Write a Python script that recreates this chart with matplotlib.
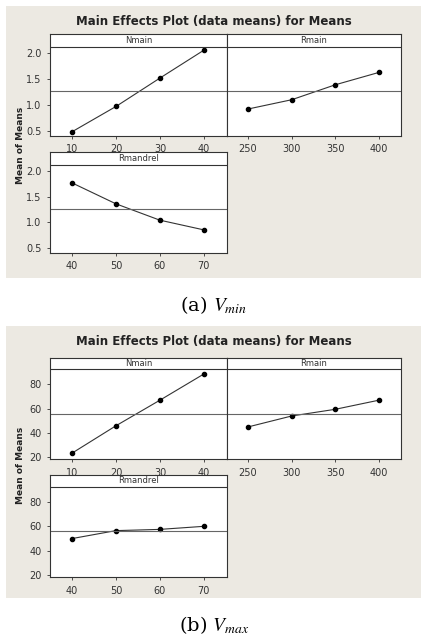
import matplotlib
matplotlib.use("Agg")
import matplotlib.pyplot as plt

W, H = 428, 639
plt.rcParams['mathtext.fontset'] = 'stix'

factors = ["Nmain", "Rmain", "Rmandrel"]
levels_N = [10, 20, 30, 40]
levels_R = [250, 300, 350, 400]
levels_M = [40, 50, 60, 70]

vmin_N = [0.48, 0.97, 1.52, 2.06]
vmin_R = [0.92, 1.10, 1.39, 1.63]
vmin_M = [1.77, 1.36, 1.04, 0.85]
vmin_mean = 1.26
vmin_yticks = [0.5, 1.0, 1.5, 2.0]

vmax_N = [23.5, 46, 67, 88.5]
vmax_R = [45, 54, 59.5, 67]
vmax_M = [50, 56.5, 57.5, 60]
vmax_mean = 56
vmax_yticks = [20, 40, 60, 80]

fig = plt.figure(figsize=(W/100, H/100), dpi=100)
fig.patch.set_facecolor("white")

def box(x0, y0, x1, y1):
    return [x0/W, 1-y1/H, (x1-x0)/W, (y1-y0)/H]

BG = "#ECE9E2"

def chart(yoff, top_px, bottom_px, ylim, yticks, yfmt, data, mean, strip_frac, caption):
    bg = fig.add_axes(box(6, yoff+6, 421, yoff+278), zorder=-5)
    bg.set_facecolor(BG)
    bg.set_xticks([]); bg.set_yticks([])
    for s in bg.spines.values():
        s.set_visible(False)
    fig.text(214/W, 1-(yoff+21)/H, "Main Effects Plot (data means) for Means",
             ha="center", va="center", fontsize=8.5, fontweight="bold", color="#222222")
    fig.text(21/W, 1-(yoff+145)/H, "Mean of Means", rotation=90, ha="center", va="center",
             fontsize=6.5, fontweight="bold", color="#222222")
    panels = [
        (box(50, yoff+top_px[0], 227, yoff+bottom_px[0]), levels_N, data[0], (4.96, 45.27), factors[0], True),
        (box(227, yoff+top_px[0], 401, yoff+bottom_px[0]), levels_R, data[1], (225.9, 425.2), factors[1], False),
        (box(50, yoff+top_px[1], 227, yoff+bottom_px[1]), levels_M, data[2], (35.0, 75.3), factors[2], True),
    ]
    for rect, lv, vals, xl, name, showy in panels:
        ax = fig.add_axes(rect)
        ax.set_facecolor("white")
        ax.plot(lv, vals, color="#333333", lw=0.8, marker="o", ms=3, mfc="black", mec="black")
        ax.axhline(mean, color="#666666", lw=0.8)
        ax.set_xlim(*xl)
        ax.set_ylim(*ylim)
        ax.set_xticks(lv)
        ax.set_yticks(yticks)
        ax.set_yticklabels([yfmt(v) for v in yticks])
        ax.tick_params(labelsize=7, colors="#333333", length=2.5, width=0.6)
        if not showy:
            ax.tick_params(axis="y", left=False, labelleft=False)
        for s in ax.spines.values():
            s.set_color("#333333"); s.set_linewidth(0.8)
        ax.axhline(ylim[1] - strip_frac*(ylim[1]-ylim[0]), color="#333333", lw=0.8)
        ax.text(0.5, 1-strip_frac/2, name, transform=ax.transAxes, ha="center", va="center",
                fontsize=6, color="#333333")
    fig.text(214/W, 1-(yoff+305)/H, caption, ha="center", va="center", fontsize=14, family="serif")

chart(0, (34, 152), (136, 253), (0.397, 2.374), vmin_yticks, lambda v: f"{v:.1f}",
      (vmin_N, vmin_R, vmin_M), vmin_mean, 0.124, r"(a) $\mathit{V}_{\mathit{min}}$")
chart(320, (37.7, 155), (139.3, 257.3), (18.4, 101.9), vmax_yticks, lambda v: f"{v:d}",
      (vmax_N, vmax_R, vmax_M), vmax_mean, 0.116, r"(b) $\mathit{V}_{\mathit{max}}$")

fig.savefig("out.png", dpi=100)
